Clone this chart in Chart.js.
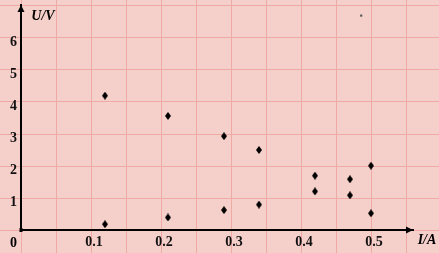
<!DOCTYPE html>
<html>
<head>
<meta charset="utf-8">
<script src="https://cdn.jsdelivr.net/npm/chart.js@4"></script>
<style>
  html, body { margin: 0; padding: 0; background: #f5cfc9; }
  #wrap { width: 439px; height: 253px; }
</style>
</head>
<body>
<div id="wrap"><canvas id="myChart" width="439" height="253"></canvas></div>
<script>
// readings off the graph paper
const currentA = [0.12, 0.21, 0.29, 0.34, 0.42, 0.47, 0.50];
const voltageUpper = [4.18, 3.55, 2.92, 2.49, 1.69, 1.58, 2.00];
const voltageLower = [0.18, 0.39, 0.62, 0.79, 1.20, 1.08, 0.52];
const strayDot = [{ x: 0.486, y: 6.67 }];
const xTicks = [0.1, 0.2, 0.3, 0.4, 0.5];
const yTicks = [1, 2, 3, 4, 5, 6];

// little upright diamond used for every point
const diamond = document.createElement("canvas");
diamond.width = 6;
diamond.height = 8;
const dctx = diamond.getContext("2d");
dctx.fillStyle = "#000";
dctx.beginPath();
dctx.moveTo(3, 0);
dctx.lineTo(6, 4);
dctx.lineTo(3, 8);
dctx.lineTo(0, 4);
dctx.closePath();
dctx.fill();

const toPoints = (xs, ys) => xs.map((x, i) => ({ x: x, y: ys[i] }));

const paper = {
  id: "paper",
  beforeDraw(chart) {
    const ctx = chart.ctx;
    const xs = chart.scales.x, ys = chart.scales.y;
    ctx.save();
    ctx.fillStyle = "#f5cfc9";
    ctx.fillRect(0, 0, chart.width, chart.height);
    ctx.lineWidth = 1;
    // vertical lines every 0.05
    for (let v = -0.05; v <= 0.65; v += 0.05) {
      const px = Math.round(xs.getPixelForValue(v)) + 0.5;
      ctx.strokeStyle = "#f0aaa6";
      ctx.beginPath();
      ctx.moveTo(px, 0);
      ctx.lineTo(px, chart.height);
      ctx.stroke();
    }
    // horizontal lines every 1
    for (let v = -1; v <= 8; v += 1) {
      const py = Math.round(ys.getPixelForValue(v)) + 0.5;
      ctx.strokeStyle = "#f0aaa6";
      ctx.beginPath();
      ctx.moveTo(0, py);
      ctx.lineTo(chart.width, py);
      ctx.stroke();
    }
    ctx.restore();
  },
  afterDraw(chart) {
    const ctx = chart.ctx;
    const xs = chart.scales.x, ys = chart.scales.y;
    const ox = xs.getPixelForValue(0), oy = ys.getPixelForValue(0);
    const top = chart.chartArea.top, right = chart.chartArea.right;
    ctx.save();
    ctx.fillStyle = "#000";
    // arrow heads
    ctx.beginPath();
    ctx.moveTo(ox, top);
    ctx.lineTo(ox + 3.5, top + 7);
    ctx.lineTo(ox - 3.5, top + 7);
    ctx.closePath();
    ctx.fill();
    ctx.beginPath();
    ctx.moveTo(right, oy);
    ctx.lineTo(right - 7, oy - 3.5);
    ctx.lineTo(right - 7, oy + 3.5);
    ctx.closePath();
    ctx.fill();
    // origin blob
    ctx.fillRect(ox - 1.5, oy - 2, 3, 4);
    // texts
    ctx.font = "bold 14px 'Liberation Serif'";
    ctx.textAlign = "center";
    ctx.textBaseline = "middle";
    ctx.fillText("0", 13.5, oy + 13);
    ctx.font = "italic bold 14px 'Liberation Serif'";
    ctx.fillText("U/V", 43, 16);
    ctx.fillText("I/A", 427, 240);
    ctx.restore();
  }
};

const ctx = document.getElementById("myChart").getContext("2d");
const myChart = new Chart(ctx, {
  type: "scatter",
  data: {
    datasets: [
      { label: "upper", data: toPoints(currentA, voltageUpper), pointStyle: diamond },
      { label: "lower", data: toPoints(currentA, voltageLower), pointStyle: diamond },
      { label: "dot", data: strayDot, pointStyle: "rect", pointRadius: 1.5,
        backgroundColor: "#555", borderWidth: 0 }
    ]
  },
  options: {
    responsive: false,
    animation: false,
    layout: { padding: { top: 3, right: 26, left: 0, bottom: 0 } },
    plugins: { legend: { display: false }, tooltip: { enabled: false } },
    scales: {
      x: {
        type: "linear",
        min: 0,
        max: 0.56,
        afterFit: s => { s.height = 23; s.paddingLeft = 0; s.paddingRight = 0; },
        afterBuildTicks: s => { s.ticks = xTicks.map(v => ({ value: v })); },
        grid: { display: false, drawTicks: false },
        border: { display: true, color: "#000", width: 2 },
        ticks: {
          padding: 4,
          labelOffset: 3,
          color: "#111",
          font: { family: "'Liberation Serif'", size: 14, weight: "bold" },
          callback: v => v.toFixed(1)
        }
      },
      y: {
        type: "linear",
        min: 0,
        max: 7,
        afterFit: s => { s.width = 21; s.paddingTop = 0; s.paddingBottom = 0; },
        afterBuildTicks: s => { s.ticks = yTicks.map(v => ({ value: v })); },
        grid: { display: false, drawTicks: false },
        border: { display: true, color: "#000", width: 2 },
        ticks: {
          padding: 4,
          labelOffset: 5,
          color: "#111",
          font: { family: "'Liberation Serif'", size: 14, weight: "bold" },
          callback: v => String(v)
        }
      }
    }
  },
  plugins: [paper]
});
</script>
</body>
</html>
